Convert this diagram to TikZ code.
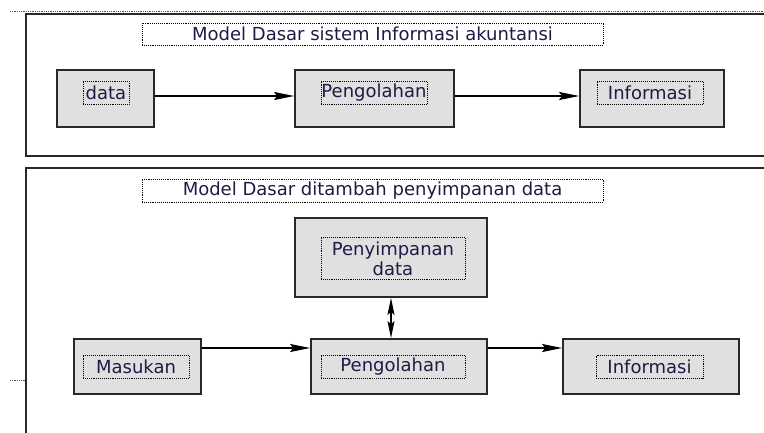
\documentclass[tikz,border=0pt]{standalone}
\usepackage{fontspec}
\setmainfont{DejaVu Sans}
\usetikzlibrary{arrows.meta}
\definecolor{txt}{RGB}{28,28,70}
\definecolor{boxfill}{RGB}{224,224,224}
\definecolor{edge}{RGB}{40,40,40}
\tikzset{
  frame/.style={draw=edge, line width=1.6pt},
  box/.style={draw=edge, fill=boxfill, line width=1.8pt, inner sep=0pt},
  tbox/.style={draw=black, densely dotted, line width=0.9pt, inner sep=0pt, text=txt,
    font=\fontsize{18}{19}\selectfont, align=center},
  flow/.style={draw=black, line width=1.3pt, -{Stealth[length=20pt,width=8pt,inset=3pt]}},
  both/.style={draw=black, line width=1.3pt, {Stealth[length=17pt,width=7pt,inset=3pt]}-{Stealth[length=17pt,width=7pt,inset=3pt]}},
  sep/.style={draw=black!70, densely dotted, line width=0.8pt}
}
\begin{document}
\begin{tikzpicture}[x=1pt,y=-1pt]
\useasboundingbox[fill=white] (0,0) rectangle (764,432);
% separators
\coordinate (s1a) at (10,11); \coordinate (s1b) at (764,11);
\draw[sep] (s1a) -- (s1b);
\coordinate (s2a) at (10,380); \coordinate (s2b) at (26,380);
\draw[sep] (s2a) -- (s2b);
% frames
\draw[frame] (26,14) rectangle (780,156);
\draw[frame] (26,168) rectangle (780,450);
% titles
\node[tbox, minimum width=461pt, minimum height=22pt] (t1) at (372.5,34) {Model Dasar sistem Informasi akuntansi};
\node[tbox, minimum width=461pt, minimum height=23pt] (t2) at (372.5,190.5) {Model Dasar ditambah penyimpanan data};
% top row
\node[box, minimum width=97pt, minimum height=57pt] (data) at (105.5,98.5) {};
\node[tbox, minimum width=46pt, minimum height=23pt] (datat) at (106,92.5) {data};
\node[box, minimum width=159pt, minimum height=57pt] (peng1) at (374.5,98.5) {};
\node[tbox, minimum width=106pt, minimum height=23pt] (peng1t) at (374,92.5) {Pengolahan};
\node[box, minimum width=144pt, minimum height=57pt] (info1) at (652,98.5) {};
\node[tbox, minimum width=106pt, minimum height=23pt] (info1t) at (650,92.5) {Informasi};
\draw[flow] ([yshift=2.5pt]data.east) -- ([yshift=2.5pt]peng1.west);
\draw[flow] ([yshift=2.5pt]peng1.east) -- ([yshift=2.5pt]info1.west);
% bottom
\node[box, minimum width=192pt, minimum height=79pt] (stor) at (391,257.5) {};
\node[tbox, minimum width=144pt, minimum height=42pt, font=\fontsize{18}{20}\selectfont] (stort) at (393,258.5) {Penyimpanan\\data};
\node[box, minimum width=127pt, minimum height=55pt] (mas) at (137.5,366.5) {};
\node[tbox, minimum width=106pt, minimum height=23pt] (mast) at (136,366.5) {Masukan};
\node[box, minimum width=176pt, minimum height=55pt] (peng2) at (399,366.5) {};
\node[tbox, minimum width=144pt, minimum height=23pt] (peng2t) at (393,366.5) {Pengolahan};
\node[box, minimum width=176pt, minimum height=55pt] (info2) at (651,366.5) {};
\node[tbox, minimum width=107pt, minimum height=23pt] (info2t) at (649.5,366.5) {Informasi};
\draw[flow] ([yshift=18.5pt]mas.east) -- ([yshift=18.5pt]peng2.west);
\draw[flow] ([yshift=18.5pt]peng2.east) -- ([yshift=18.5pt]info2.west);
\draw[both] (stor.south) -- (stor.south |- peng2.north);
\end{tikzpicture}
\end{document}
